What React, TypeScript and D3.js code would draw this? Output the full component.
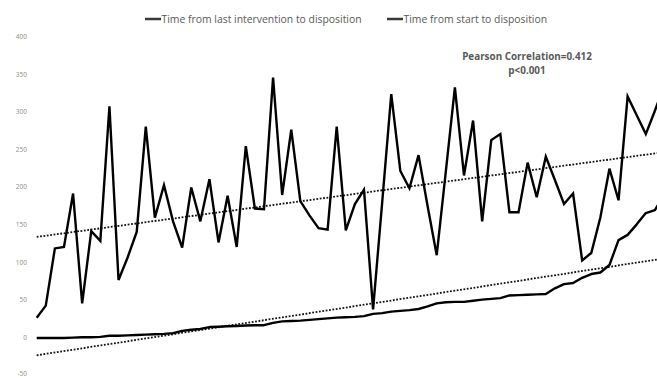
import React from "react";
import * as d3 from "d3";

// time from last intervention to disposition (sorted, lower line)
const lastToDisposition: number[] = [
  0, 0, 0, 0, 0.5, 1, 1, 1.5, 3, 3,
  3.5, 4, 4.5, 5, 5.5, 6.5, 9.5, 11, 12, 14.5,
  15, 15.5, 16, 16.5, 17, 17, 20, 22, 22.5, 23,
  24, 25, 26, 27, 27.5, 28, 29, 32, 33, 35,
  36, 37, 38.5, 42, 46, 47.5, 48, 48, 49.5, 51,
  52, 53, 56.5, 57, 57.5, 58, 58.5, 66, 71.5, 73,
  80, 85, 87, 97, 130, 137, 151, 166, 170, 190,
];

// time from start to disposition (upper line)
const startToDisposition: number[] = [
  27, 43, 119, 121, 192, 46, 142, 129, 308, 77,
  107, 141, 281, 160, 203, 155, 120, 200, 155, 211,
  127, 189, 121, 255, 172, 171, 346, 190, 277, 182,
  163, 146, 144, 281, 143, 178, 197, 38, 180, 324,
  222, 199, 243, 175, 110, 221, 333, 216, 289, 155,
  263, 271, 167, 167, 233, 187, 241, 210, 178, 192,
  103, 113, 160, 225, 183, 321, 296, 271, 302, 335,
];

const seriesNames: string[] = [
  "Time from last intervention to disposition",
  "Time from start to disposition",
];

const yTicks: number[] = [-50, 0, 50, 100, 150, 200, 250, 300, 350, 400];

const annotation: string[] = ["Pearson Correlation=0.412", "p<0.001"];

const W = 657;
const H = 378;

// least squares fit against the point index
function trend(values: number[]) {
  const xs = d3.range(values.length);
  const mx = d3.mean(xs) as number;
  const my = d3.mean(values) as number;
  let sxy = 0;
  let sxx = 0;
  xs.forEach((x, i) => {
    sxy += (x - mx) * (values[i] - my);
    sxx += (x - mx) * (x - mx);
  });
  const slope = sxy / sxx;
  const icpt = my - slope * mx;
  return (x: number) => icpt + slope * x;
}

export default function App() {
  const x = d3.scaleLinear().domain([0, 68]).range([36.7, 654.9]);
  const y = d3.scaleLinear().domain([-50, 400]).range([375.6, 37]);

  const line = d3
    .line<number>()
    .x((_, i) => x(i))
    .y((d) => y(d));

  const n = startToDisposition.length;
  const trends = [lastToDisposition, startToDisposition].map((s) => {
    const f = trend(s);
    return [
      [x(0), y(f(0))],
      [x(n - 1), y(f(n - 1))],
    ];
  });

  const fontUI = "'Open Sans', 'Noto Sans', sans-serif";

  return (
    <svg
      width={W}
      height={H}
      style={{ position: "absolute", left: 0, top: 0, background: "#fff" }}
    >
      <rect width={W} height={H} fill="#fff" />

      {/* y axis labels */}
      {yTicks.map((t) => (
        <text
          key={t}
          x={27}
          y={Math.min(y(t), H - 4)}
          dy="0.3em"
          textAnchor="end"
          fontSize={6.5}
          fontFamily={fontUI}
          fill="#8c8c8c"
        >
          {t}
        </text>
      ))}

      {/* trend lines */}
      {trends.map((p, i) => (
        <line
          key={i}
          x1={p[0][0]}
          y1={p[0][1]}
          x2={p[1][0]}
          y2={p[1][1]}
          stroke="#111"
          strokeWidth={1.8}
          strokeDasharray="1.8 1.6"
        />
      ))}

      {/* series */}
      <path
        d={line(lastToDisposition) || ""}
        fill="none"
        stroke="#000"
        strokeWidth={2.4}
        strokeLinejoin="round"
      />
      <path
        d={line(startToDisposition) || ""}
        fill="none"
        stroke="#000"
        strokeWidth={2.4}
        strokeLinejoin="miter"
      />

      {/* legend */}
      {seriesNames.map((name, i) => {
        const lx = i === 0 ? 145 : 387;
        return (
          <g key={name} transform={`translate(${lx},19)`}>
            <line x1={0} x2={16} y1={0} y2={0} stroke="#3a3a3a" strokeWidth={2.5} />
            <text
              x={16.5}
              y={0}
              dy="0.35em"
              fontSize={10.4}
              fontFamily={fontUI}
              fill="#595959"
            >
              {name}
            </text>
          </g>
        );
      })}

      {/* annotation */}
      {annotation.map((t, i) => (
        <text
          key={t}
          x={527}
          y={57 + i * 14}
          dy="0.35em"
          textAnchor="middle"
          fontSize={9.9}
          fontWeight="bold"
          fontFamily={fontUI}
          fill="#595959"
        >
          {t}
        </text>
      ))}
    </svg>
  );
}
